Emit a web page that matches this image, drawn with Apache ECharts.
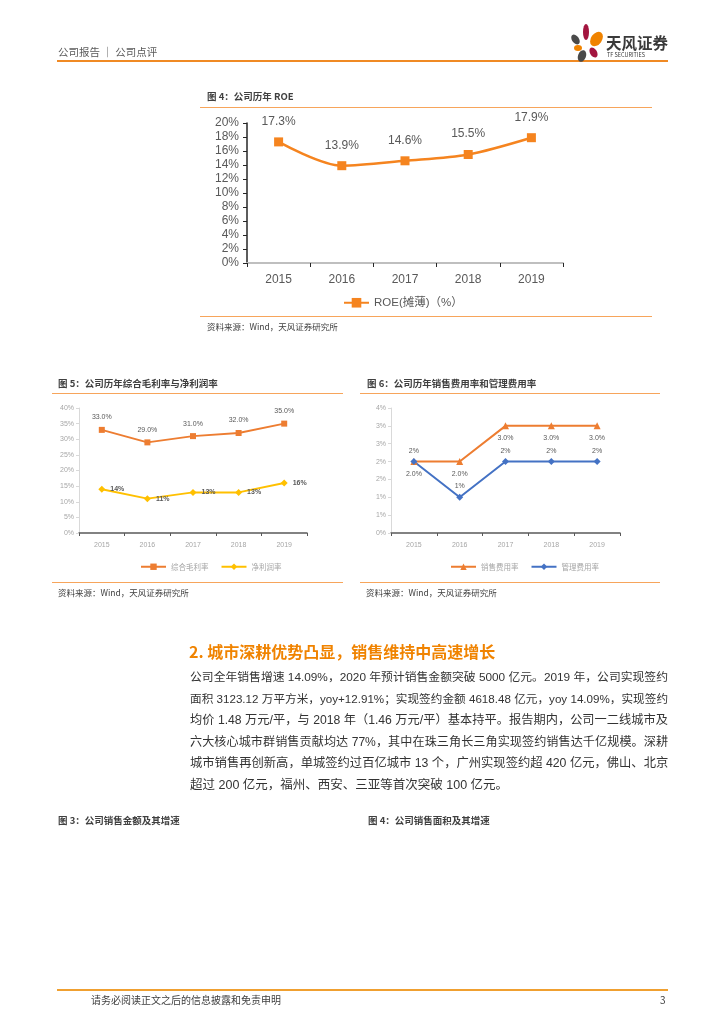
<!DOCTYPE html>
<html><head><meta charset="utf-8">
<script src="https://cdn.jsdelivr.net/npm/echarts@6/dist/echarts.min.js"></script>
<style>
html,body{margin:0;padding:0;background:#fff;}
#page{position:relative;width:724px;height:1024px;overflow:hidden;font-family:"Noto Sans CJK SC","Liberation Sans",sans-serif;}
#chart{position:absolute;left:0;top:0;width:724px;height:1024px;}
.t{position:absolute;white-space:nowrap;color:#404040;}
.hl{position:absolute;height:1px;background:#F7A55B;}
.pl{position:absolute;left:190px;width:478px;font-size:12.5px;color:#333;font-family:"Liberation Sans","Noto Sans CJK SC",sans-serif;text-align:justify;text-align-last:justify;white-space:nowrap;height:20px;line-height:20px;}
.pet{position:absolute;border-radius:50%;}
</style></head>
<body><div id="page">
<div id="chart"></div>
<!-- header -->
<div class="t" style="left:58px;top:45px;font-size:10.5px;line-height:14px;color:#595959;">公司报告 ｜ 公司点评</div>
<div style="position:absolute;left:57px;top:60px;width:611px;height:2px;background:#F08A24;"></div>
<div class="pet" style="left:572px;top:34px;width:7px;height:11px;background:#4a4a4a;transform:rotate(-35deg);"></div>
<div class="pet" style="left:583px;top:24px;width:6px;height:16px;background:#A3153F;"></div>
<div class="pet" style="left:591px;top:31px;width:11px;height:16px;background:#F08300;transform:rotate(35deg);"></div>
<div class="pet" style="left:574px;top:45px;width:8px;height:6px;background:#F08300;"></div>
<div class="pet" style="left:590px;top:47px;width:7px;height:11px;background:#A3153F;transform:rotate(-30deg);"></div>
<div class="pet" style="left:578px;top:50px;width:8px;height:12px;background:#4a4a4a;transform:rotate(20deg);"></div>
<div class="t" style="left:606px;top:33px;font-size:15.5px;line-height:18px;color:#3a3a3a;font-weight:bold;">天风证券</div>
<div class="t" style="left:607px;top:52px;font-size:5.5px;line-height:7px;color:#3a3a3a;">TF SECURITIES</div>

<!-- chart 1 texts -->
<div class="t" style="left:207px;top:89px;font-size:9.5px;line-height:14px;font-weight:bold;color:#404040;">图 4：公司历年 ROE</div>
<div class="hl" style="left:200px;top:107px;width:452px;"></div>
<div class="hl" style="left:200px;top:316px;width:452px;"></div>
<div class="t" style="left:207px;top:320px;font-size:8.5px;line-height:12px;color:#404040;">资料来源：Wind，天风证券研究所</div>

<!-- chart 2 texts -->
<div class="t" style="left:58px;top:376px;font-size:9.5px;line-height:14px;font-weight:bold;">图 5：公司历年综合毛利率与净利润率</div>
<div class="hl" style="left:52px;top:393px;width:291px;"></div>
<div class="hl" style="left:52px;top:582px;width:291px;"></div>
<div class="t" style="left:58px;top:586px;font-size:8.5px;line-height:12px;">资料来源：Wind，天风证券研究所</div>

<!-- chart 3 texts -->
<div class="t" style="left:367px;top:376px;font-size:9.5px;line-height:14px;font-weight:bold;">图 6：公司历年销售费用率和管理费用率</div>
<div class="hl" style="left:360px;top:393px;width:300px;"></div>
<div class="hl" style="left:360px;top:582px;width:300px;"></div>
<div class="t" style="left:366px;top:586px;font-size:8.5px;line-height:12px;">资料来源：Wind，天风证券研究所</div>

<!-- section -->
<div class="t" style="left:189px;top:641px;font-size:16px;line-height:20px;font-weight:bold;color:#F08300;">2. 城市深耕优势凸显，销售维持中高速增长</div>
<div class="pl" style="top:667px;">公司全年销售增速 14.09%，2020 年预计销售金额突破 5000 亿元。2019 年，公司实现签约</div>
<div class="pl" style="top:689px;">面积 3123.12 万平方米，yoy+12.91%；实现签约金额 4618.48 亿元，yoy 14.09%，实现签约</div>
<div class="pl" style="top:710px;">均价 1.48 万元/平，与 2018 年（1.46 万元/平）基本持平。报告期内，公司一二线城市及</div>
<div class="pl" style="top:732px;">六大核心城市群销售贡献均达 77%，其中在珠三角长三角实现签约销售达千亿规模。深耕</div>
<div class="pl" style="top:753px;">城市销售再创新高，单城签约过百亿城市 13 个，广州实现签约超 420 亿元，佛山、北京</div>
<div class="pl last" style="top:775px;text-align:left;text-align-last:left;">超过 200 亿元，福州、西安、三亚等首次突破 100 亿元。</div>

<div class="t" style="left:58px;top:813px;font-size:9.5px;line-height:14px;font-weight:bold;">图 3：公司销售金额及其增速</div>
<div class="t" style="left:368px;top:813px;font-size:9.5px;line-height:14px;font-weight:bold;">图 4：公司销售面积及其增速</div>

<!-- footer -->
<div style="position:absolute;left:57px;top:989px;width:611px;height:2px;background:#F0A030;"></div>
<div class="t" style="left:91px;top:993px;font-size:10px;line-height:14px;color:#404040;">请务必阅读正文之后的信息披露和免责申明</div>
<div class="t" style="left:660px;top:993px;font-size:10px;line-height:14px;color:#404040;">3</div>
</div>
<script>
// keep justified lines inside their box
document.querySelectorAll('.pl').forEach(el=>{
  let fs = 12.5;
  while (el.scrollWidth > el.clientWidth + 0.5 && fs > 10) { fs -= 0.1; el.style.fontSize = fs + 'px'; }
});

const years = ['2015','2016','2017','2018','2019'];
const roe = [17.3, 13.9, 14.6, 15.5, 17.9];
const grossMargin = [33.0, 29.0, 31.0, 32.0, 35.0];
const netMargin = [14, 11, 13, 13, 16];
const sellingRate = [2.0, 2.0, 3.0, 3.0, 3.0];
const adminRate = [2, 1, 2, 2, 2];

const chart = echarts.init(document.getElementById('chart'), null, {renderer:'canvas'});
const numFont = 'Liberation Sans';
function smallY(extra){
  return Object.assign({
    type:'value', min:0,
    axisLine:{show:true,lineStyle:{color:'#d9d9d9'}},
    axisTick:{show:true,length:3,lineStyle:{color:'#d9d9d9'}},
    splitLine:{show:false}
  }, extra);
}
function smallX(gi){
  return {
    type:'category', data:years, gridIndex:gi, boundaryGap:true,
    axisLine:{lineStyle:{color:'#595959',width:1.5}},
    axisTick:{show:true,length:3,lineStyle:{color:'#595959'}},
    axisLabel:{color:'#a6a6a6',fontSize:7,fontFamily:numFont,margin:9}
  };
}
chart.setOption({
  animation:false,
  textStyle:{fontFamily:numFont},
  grid:[
    {left:247, top:123, width:316, height:140},
    {left:79, top:408, width:228, height:125},
    {left:391, top:408, width:229, height:125}
  ],
  xAxis:[
    {type:'category', data:years, gridIndex:0,
     axisLine:{lineStyle:{color:'#bfbfbf',width:2}},
     axisTick:{show:true,length:4,lineStyle:{color:'#262626'}},
     axisLabel:{color:'#595959',fontSize:12,fontFamily:numFont,margin:11}},
    smallX(1), smallX(2)
  ],
  yAxis:[
    {type:'value', gridIndex:0, min:0, max:20, interval:2,
     axisLine:{show:true,lineStyle:{color:'#262626',width:1.5}},
     axisTick:{show:true,length:4,lineStyle:{color:'#262626'}},
     splitLine:{show:false},
     axisLabel:{color:'#595959',fontSize:12,fontFamily:numFont,margin:8,formatter:'{value}%'}},
    smallY({gridIndex:1, max:40, interval:5, axisLabel:{color:'#a6a6a6',fontSize:7,fontFamily:numFont,margin:5,formatter:'{value}%'}}),
    smallY({gridIndex:2, max:3.5, interval:0.5, axisLabel:{color:'#a6a6a6',fontSize:7,fontFamily:numFont,margin:5,formatter:v=>Math.round(v)+'%'}})
  ],
  legend:[
    {data:['ROE(摊薄)（%）'], left:338, top:292, itemWidth:25, itemHeight:12,
     textStyle:{color:'#595959',fontSize:11.5,fontFamily:'Liberation Sans, Noto Sans CJK SC'}},
    {data:['综合毛利率','净利润率'], left:135, top:558, itemWidth:25, itemHeight:8, itemGap:12,
     textStyle:{color:'#a6a6a6',fontSize:7.5,fontFamily:'Noto Sans CJK SC'}},
    {data:['销售费用率','管理费用率'], left:445, top:558, itemWidth:25, itemHeight:8, itemGap:12,
     textStyle:{color:'#a6a6a6',fontSize:7.5,fontFamily:'Noto Sans CJK SC'}}
  ],
  series:[
    {name:'ROE(摊薄)（%）', type:'line', xAxisIndex:0, yAxisIndex:0, data:roe, smooth:0.3,
     symbol:'rect', symbolSize:9, lineStyle:{color:'#F5841F',width:2.5}, itemStyle:{color:'#F5841F'},
     label:{show:true, position:'top', distance:10, color:'#595959', fontSize:12, fontFamily:numFont, formatter:p=>p.value.toFixed(1)+'%'}},
    {name:'综合毛利率', type:'line', xAxisIndex:1, yAxisIndex:1, data:grossMargin,
     symbol:'rect', symbolSize:6, lineStyle:{color:'#ED7D31',width:2}, itemStyle:{color:'#ED7D31'},
     label:{show:true, position:'top', distance:6, color:'#595959', fontSize:7, fontFamily:numFont, formatter:p=>p.value.toFixed(1)+'%'}},
    {name:'净利润率', type:'line', xAxisIndex:1, yAxisIndex:1, data:netMargin,
     symbol:'diamond', symbolSize:7, lineStyle:{color:'#FFC000',width:2}, itemStyle:{color:'#FFC000'},
     label:{show:true, position:'right', distance:5, color:'#595959', fontSize:7, fontWeight:'bold', fontFamily:numFont, formatter:p=>p.value+'%'}},
    {name:'销售费用率', type:'line', xAxisIndex:2, yAxisIndex:2, data:sellingRate,
     symbol:'triangle', symbolSize:7, lineStyle:{color:'#ED7D31',width:2}, itemStyle:{color:'#ED7D31'},
     label:{show:true, position:'bottom', distance:5, color:'#595959', fontSize:7, fontFamily:numFont, formatter:p=>p.value.toFixed(1)+'%'}},
    {name:'管理费用率', type:'line', xAxisIndex:2, yAxisIndex:2, data:adminRate,
     symbol:'diamond', symbolSize:7, lineStyle:{color:'#4472C4',width:2}, itemStyle:{color:'#4472C4'},
     label:{show:true, position:'top', distance:4, color:'#595959', fontSize:7, fontFamily:numFont, formatter:p=>Math.round(p.value)+'%'}}
  ]
});
</script>
</body></html>
